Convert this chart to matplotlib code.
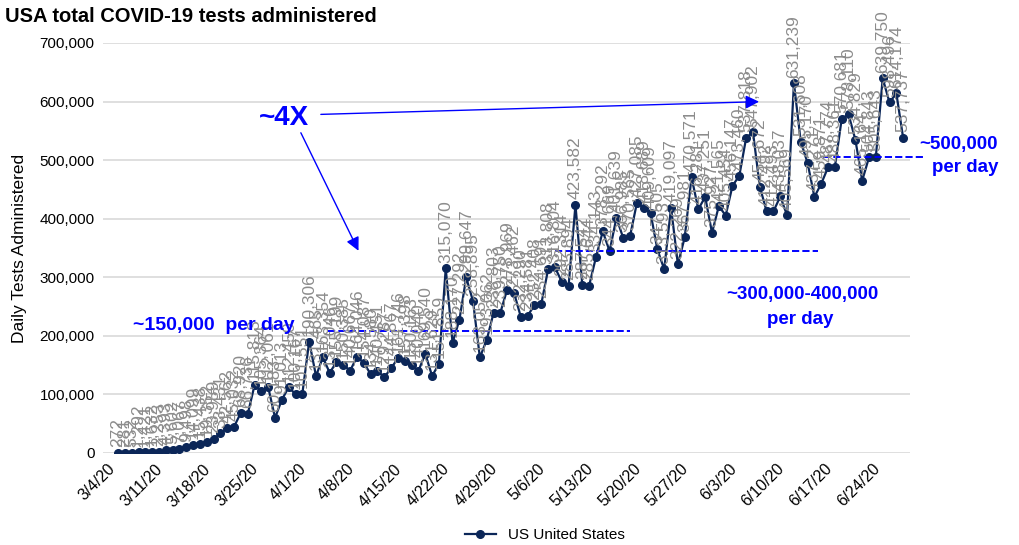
import matplotlib.pyplot as plt
import pandas as pd

# daily US tests, 3/4/20 .. 6/27/20
tests = [
    272, 281, 532, 1292, 1421, 1632, 2253, 4393, 5602, 7067,
    9498, 14099, 15438, 19352, 23959, 33431, 42562, 45032, 68920, 66736,
    115813, 105364, 112061, 60183, 91013, 112450, 100167, 101551, 190306, 131465,
    163354, 137046, 155199, 150385, 140667, 164046, 154087, 134580, 140451, 129287,
    144867, 161746, 157398, 150163, 140040, 169540, 131629, 151859, 315070, 188170,
    227292, 299647, 258895, 163052, 193062, 238803, 239750, 278969, 273462, 232290,
    234581, 252408, 254691, 313808, 316804, 292314, 285894, 423582, 287542, 285644,
    334143, 378292, 344669, 401639, 366985, 370565, 427085, 418689, 409609, 347505,
    313593, 419097, 322269, 367981, 470571, 416281, 437251, 375927, 421565, 405454,
    456147, 473460, 537818, 547902, 454672, 412492, 412493, 438037, 405569, 631239,
    531608, 495170, 437271, 459871, 487774, 488361, 570681, 578110, 534829, 465164,
    504843, 505643, 639750, 598496, 614174, 537737,
]
dates = pd.date_range("2020-03-04", periods=len(tests), freq="D")
days = list(range(len(tests)))
tick_days = days[::7]
tick_labels = [f"{d.month}/{d.day}/20" for d in dates[::7]]

NAVY = "#0b2658"
BLUE = "#0000ff"
GRAY = "#8c8c8c"
plt.rcParams["font.family"] = ["Liberation Sans", "DejaVu Sans"]

fig = plt.figure(figsize=(10.19, 5.45), dpi=100)
ax = fig.add_axes([103 / 1019, 1 - 453 / 545, (910 - 103) / 1019, (453 - 43) / 545])

ax.plot(days, tests, color=NAVY, lw=1.6, marker="o", ms=5.5,
        label="US United States")
for d, v in zip(days, tests):
    ax.annotate(f"{v:,}", (d, v), xytext=(0, 4), textcoords="offset points",
                rotation=90, ha="center", va="bottom", color=GRAY,
                fontsize=12.5)

ax.set_xlim(-2.2, 116)
ax.set_ylim(0, 700000)
ax.set_yticks(range(0, 700001, 100000))
ax.set_yticklabels([f"{v:,}" for v in range(0, 700001, 100000)], fontsize=11)
ax.set_xticks(tick_days)
ax.set_xticklabels(tick_labels, rotation=45, ha="right", fontsize=11.5)
ax.tick_params(length=0, pad=6)
ax.grid(axis="y", color="#d9d9d9", lw=1.2)
ax.set_axisbelow(True)
for s in ax.spines.values():
    s.set_visible(False)
ax.set_ylabel("Daily Tests Administered", fontsize=12.5)
ax.yaxis.set_label_coords(-0.094, 0.5)

fig.text(5 / 1019, 1 - 17 / 545, "USA total COVID-19 tests administered",
         fontsize=14.5, fontweight="bold", va="center")

# annotations
ax.plot([30.7, 75], [208000, 208000], ls="--", color=BLUE, lw=1.4, clip_on=False)
ax.plot([64, 102.5], [345000, 345000], ls="--", color=BLUE, lw=1.4, clip_on=False)
ax.plot([103.2, 118.2], [505000, 505000], ls="--", color=BLUE, lw=1.4, clip_on=False)

ax.annotate("", xy=(94.3, 600000), xytext=(29.3, 578000),
            arrowprops=dict(arrowstyle="-|>", color=BLUE, lw=1, mutation_scale=20))
ax.annotate("", xy=(35.4, 341000), xytext=(26.6, 551000),
            arrowprops=dict(arrowstyle="-|>", color=BLUE, lw=1, mutation_scale=20))

fig.text(284 / 1019, 1 - 118 / 545, "~4X", color=BLUE, fontsize=20,
         fontweight="bold", ha="center", va="center")
fig.text(133 / 1019, 1 - 325 / 545, "~150,000  per day", color=BLUE,
         fontsize=14, fontweight="bold", va="center")
fig.text(802 / 1019, 1 - 295 / 545, "~300,000-400,000", color=BLUE,
         fontsize=13.5, fontweight="bold", ha="center", va="center")
fig.text(800 / 1019, 1 - 320 / 545, "per day", color=BLUE,
         fontsize=13.5, fontweight="bold", ha="center", va="center")
fig.text(958 / 1019, 1 - 145 / 545, "~500,000", color=BLUE,
         fontsize=13.5, fontweight="bold", ha="center", va="center")
fig.text(965 / 1019, 1 - 168 / 545, "per day", color=BLUE,
         fontsize=13.5, fontweight="bold", ha="center", va="center")

fig.legend(loc="center", bbox_to_anchor=(545 / 1019, 1 - 535 / 545),
           frameon=False, fontsize=11, handlelength=2)

fig.savefig("out.png", dpi=100)
